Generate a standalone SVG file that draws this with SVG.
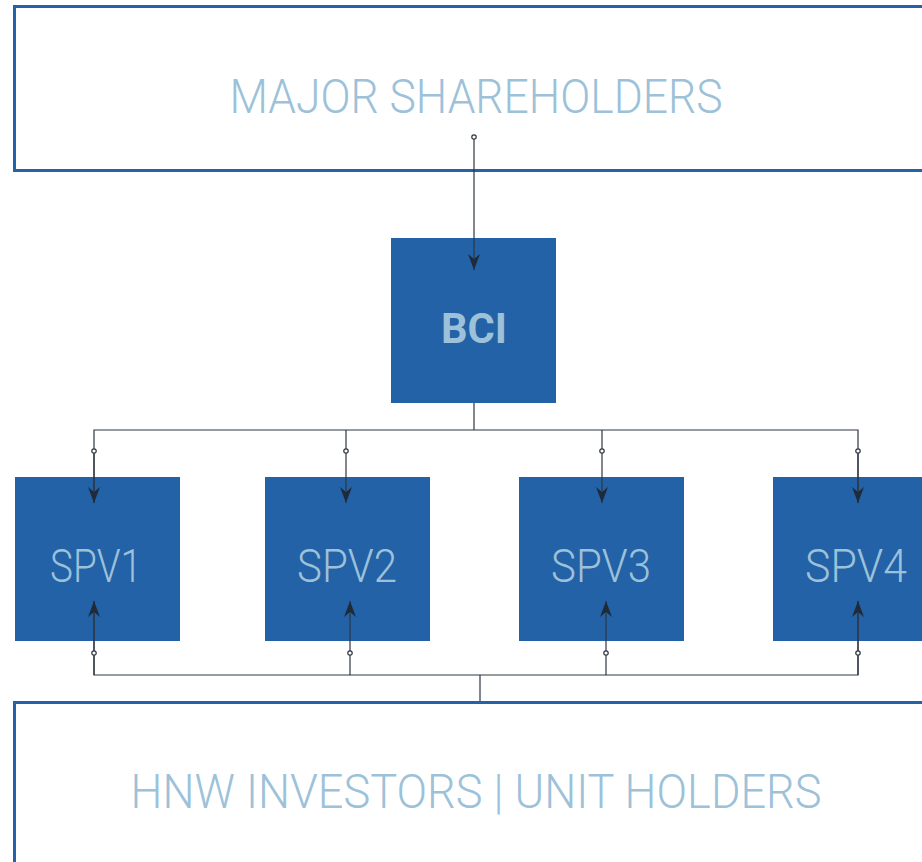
<svg xmlns="http://www.w3.org/2000/svg" width="922" height="862" viewBox="0 0 922 862">
<style>
.frame{fill:#ffffff;stroke:#2563a8;stroke-width:3}
.box{fill:#2362a6}
.lbl{fill:#9cc1d9;font-family:Roboto,"Liberation Sans",sans-serif;text-anchor:middle}
.big{font-size:48px;font-weight:300}
.spv{font-size:46px;font-weight:300}
.bci{font-size:43px;font-weight:700}
.ln{fill:none;stroke:#2e3744;stroke-width:1.2}
.dot{fill:#ffffff;stroke:#2e3744;stroke-width:1.2}
</style>
<defs>
<marker id="ahd" viewBox="0 0 12 16" refX="6" refY="16" markerWidth="12" markerHeight="16" markerUnits="userSpaceOnUse" orient="0">
<path d="M0,0 L6,16 L12,0 L6,5 Z" fill="#1f2b3a"/>
</marker>
<marker id="ahu" viewBox="0 0 12 16" refX="6" refY="0" markerWidth="12" markerHeight="16" markerUnits="userSpaceOnUse" orient="0">
<path d="M0,16 L6,0 L12,16 L6,11 Z" fill="#1f2b3a"/>
</marker>
</defs>
<g id="major-shareholders">
<rect class="frame" x="14.5" y="6.5" width="920" height="164"/>
<text class="lbl big" x="476" y="113" textLength="493" lengthAdjust="spacingAndGlyphs">MAJOR SHAREHOLDERS</text>
</g>
<g id="bci">
<rect class="box" x="391" y="238" width="165" height="165"/>
<text class="lbl bci" x="474" y="343" textLength="66" lengthAdjust="spacingAndGlyphs">BCI</text>
</g>
<g id="spv1">
<rect class="box" x="15" y="477" width="165" height="164"/>
<text class="lbl spv" x="96" y="582" textLength="92" lengthAdjust="spacingAndGlyphs">SPV1</text>
</g>
<g id="spv2">
<rect class="box" x="265" y="477" width="165" height="164"/>
<text class="lbl spv" x="347" y="582" textLength="100" lengthAdjust="spacingAndGlyphs">SPV2</text>
</g>
<g id="spv3">
<rect class="box" x="519" y="477" width="165" height="164"/>
<text class="lbl spv" x="601" y="582" textLength="100" lengthAdjust="spacingAndGlyphs">SPV3</text>
</g>
<g id="spv4">
<rect class="box" x="773" y="477" width="165" height="164"/>
<text class="lbl spv" x="856" y="582" textLength="102" lengthAdjust="spacingAndGlyphs">SPV4</text>
</g>
<g id="hnw-investors">
<rect class="frame" x="14.5" y="702.5" width="920" height="200"/>
<text class="lbl big" x="476" y="808" textLength="691" lengthAdjust="spacingAndGlyphs">HNW INVESTORS | UNIT HOLDERS</text>
</g>
<g id="connectors">
<line class="ln" x1="474" y1="137" x2="474" y2="270" marker-end="url(#ahd)"/>
<circle class="dot" cx="474" cy="137" r="2.2"/>
<polyline class="ln" points="474,403 474,430"/>
<polyline class="ln" points="94,503 94,430 858,430 858,503"/>
<line class="ln" x1="94" y1="451" x2="94" y2="503" marker-end="url(#ahd)"/>
<line class="ln" x1="346" y1="430" x2="346" y2="503" marker-end="url(#ahd)"/>
<line class="ln" x1="602" y1="430" x2="602" y2="503" marker-end="url(#ahd)"/>
<line class="ln" x1="858" y1="451" x2="858" y2="503" marker-end="url(#ahd)"/>
<circle class="dot" cx="94" cy="451" r="2.2"/>
<circle class="dot" cx="346" cy="451" r="2.2"/>
<circle class="dot" cx="602" cy="451" r="2.2"/>
<circle class="dot" cx="858" cy="451" r="2.2"/>
<polyline class="ln" points="94,601 94,675 858,675 858,601"/>
<line class="ln" x1="94" y1="675" x2="94" y2="601" marker-end="url(#ahu)"/>
<line class="ln" x1="350" y1="675" x2="350" y2="601" marker-end="url(#ahu)"/>
<line class="ln" x1="606" y1="675" x2="606" y2="601" marker-end="url(#ahu)"/>
<line class="ln" x1="858" y1="675" x2="858" y2="601" marker-end="url(#ahu)"/>
<line class="ln" x1="480" y1="675" x2="480" y2="701"/>
<circle class="dot" cx="94" cy="653" r="2.2"/>
<circle class="dot" cx="350" cy="653" r="2.2"/>
<circle class="dot" cx="606" cy="653" r="2.2"/>
<circle class="dot" cx="858" cy="653" r="2.2"/>
</g>
</svg>
